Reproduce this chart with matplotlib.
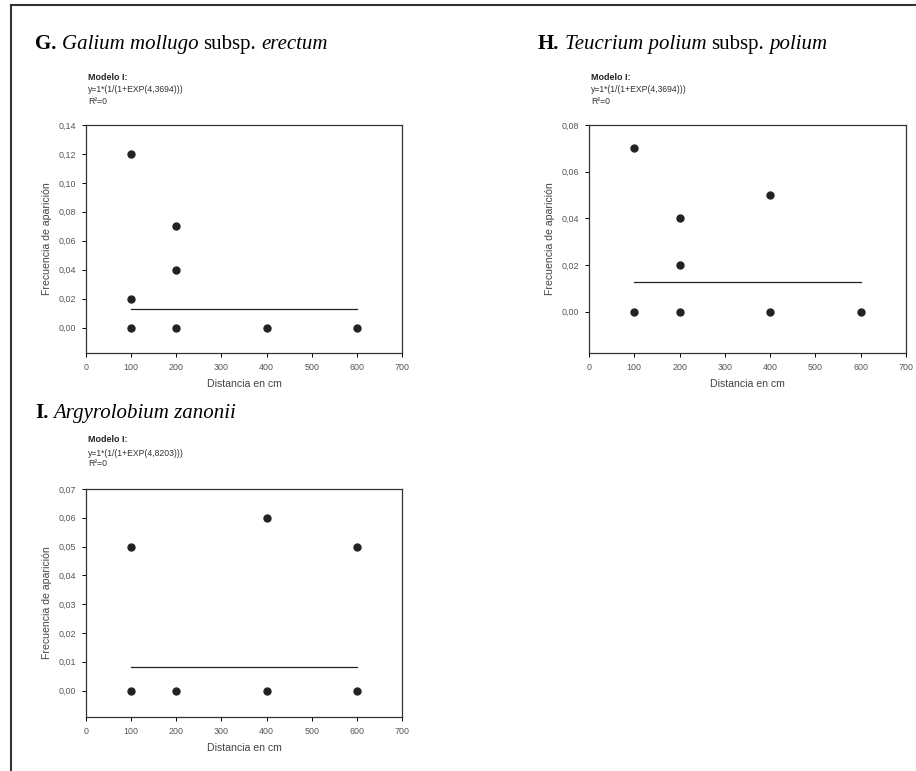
import numpy as np
import matplotlib
matplotlib.use('Agg')
import matplotlib.pyplot as plt
from matplotlib.ticker import FuncFormatter

W, H = 916, 771

plt.rcParams['font.family'] = ['Liberation Sans', 'DejaVu Sans']

# panel data: distance (cm) and frecuencia de aparicion
g_x = [100, 100, 100, 200, 200, 200, 400, 600]
g_y = [0.12, 0.02, 0.0, 0.07, 0.04, 0.0, 0.0, 0.0]
h_x = [100, 100, 200, 200, 200, 400, 400, 600]
h_y = [0.07, 0.0, 0.04, 0.02, 0.0, 0.05, 0.0, 0.0]
i_x = [100, 100, 200, 400, 400, 600, 600]
i_y = [0.05, 0.0, 0.0, 0.06, 0.0, 0.05, 0.0]

# fitted model level (Modelo I)
g_fit = 0.0125
h_fit = 0.0125
i_fit = 0.0080
fit_x = [100, 600]

# titles as (text, weight, style) pieces
g_title = [('G.', 'bold', 'normal'), ('Galium mollugo', 'normal', 'italic'),
           ('subsp.', 'normal', 'normal'), ('erectum', 'normal', 'italic')]
h_title = [('H.', 'bold', 'normal'), ('Teucrium polium', 'normal', 'italic'),
           ('subsp.', 'normal', 'normal'), ('polium', 'normal', 'italic')]
i_title = [('I.', 'bold', 'normal'), ('Argyrolobium zanonii', 'normal', 'italic')]
g_eq = 'y=1*(1/(1+EXP(4,3694)))'
h_eq = 'y=1*(1/(1+EXP(4,3694)))'
i_eq = 'y=1*(1/(1+EXP(4,8203)))'

g_yticks = [0.0, 0.02, 0.04, 0.06, 0.08, 0.10, 0.12, 0.14]
h_yticks = [0.0, 0.02, 0.04, 0.06, 0.08]
i_yticks = [0.0, 0.01, 0.02, 0.03, 0.04, 0.05, 0.06, 0.07]
xticks = [0, 100, 200, 300, 400, 500, 600, 700]

fig = plt.figure(figsize=(W / 100, H / 100), dpi=100)
renderer = fig.canvas.get_renderer()


def px(x, y):
    return x / W, 1 - y / H


def comma(v, pos):
    return ('%.2f' % v).replace('.', ',')


def title_text(x, y, pieces, size=15):
    # draw the pieces one after another, each in its own weight/style
    for txt, weight, style in pieces:
        t = fig.text(*px(x, y), txt, fontsize=size, family='Liberation Serif',
                     fontweight=weight, fontstyle=style, va='baseline', ha='left')
        bb = t.get_window_extent(renderer)
        x = x + bb.width + size * 0.25 * 100 / 72


def panel(left, top, right, bottom, xs, ys, fit, yticks, ylo, title, eq,
          title_xy, model_y):
    ax = fig.add_axes([left / W, 1 - bottom / H, (right - left) / W, (bottom - top) / H])
    ax.plot(fit_x, [fit, fit], color='#222222', lw=0.9)
    ax.plot(xs, ys, 'o', color='#222222', ms=5.0, mec='#222222', clip_on=False)
    ax.set_xlim(0, 700)
    ax.set_ylim(ylo, yticks[-1])
    ax.set_xticks(xticks)
    ax.set_yticks(yticks)
    ax.yaxis.set_major_formatter(FuncFormatter(comma))
    ax.tick_params(direction='out', length=3, width=0.7, labelsize=6.4,
                   labelcolor='#555555', pad=4)
    for s in ax.spines.values():
        s.set_linewidth(0.9)
        s.set_color('#333333')
    ax.set_ylabel('Frecuencia de aparición', fontsize=7.6, color='#444444', labelpad=5)
    ax.set_xlabel('Distancia en cm', fontsize=7.6, color='#444444', labelpad=5)
    title_text(title_xy[0], title_xy[1], title)
    fig.text(*px(left + 2, model_y), 'Modelo I:', fontsize=6.4, fontweight='bold',
             va='center', ha='left', color='#222222')
    fig.text(*px(left + 2, model_y + 13), eq, fontsize=6.2, va='center', ha='left',
             color='#333333')
    fig.text(*px(left + 2, model_y + 24), 'R²=0', fontsize=6.2, va='center', ha='left',
             color='#333333')
    return ax


panel(86, 125, 402, 353, g_x, g_y, g_fit, g_yticks, -0.0176, g_title, g_eq, (35, 49), 77)
panel(589, 125, 906, 353, h_x, h_y, h_fit, h_yticks, -0.0178, h_title, h_eq, (538, 49), 77)
panel(86, 489, 402, 717, i_x, i_y, i_fit, i_yticks, -0.0092, i_title, i_eq, (35, 418), 440)

# page frame (top and left edges)
fig.add_artist(plt.Line2D([11 / W, 11 / W], [0, 1 - 5 / H], color='#333333', lw=1.5))
fig.add_artist(plt.Line2D([11 / W, 1], [1 - 5 / H, 1 - 5 / H], color='#333333', lw=1.5))

fig.savefig('out.png', dpi=100)
